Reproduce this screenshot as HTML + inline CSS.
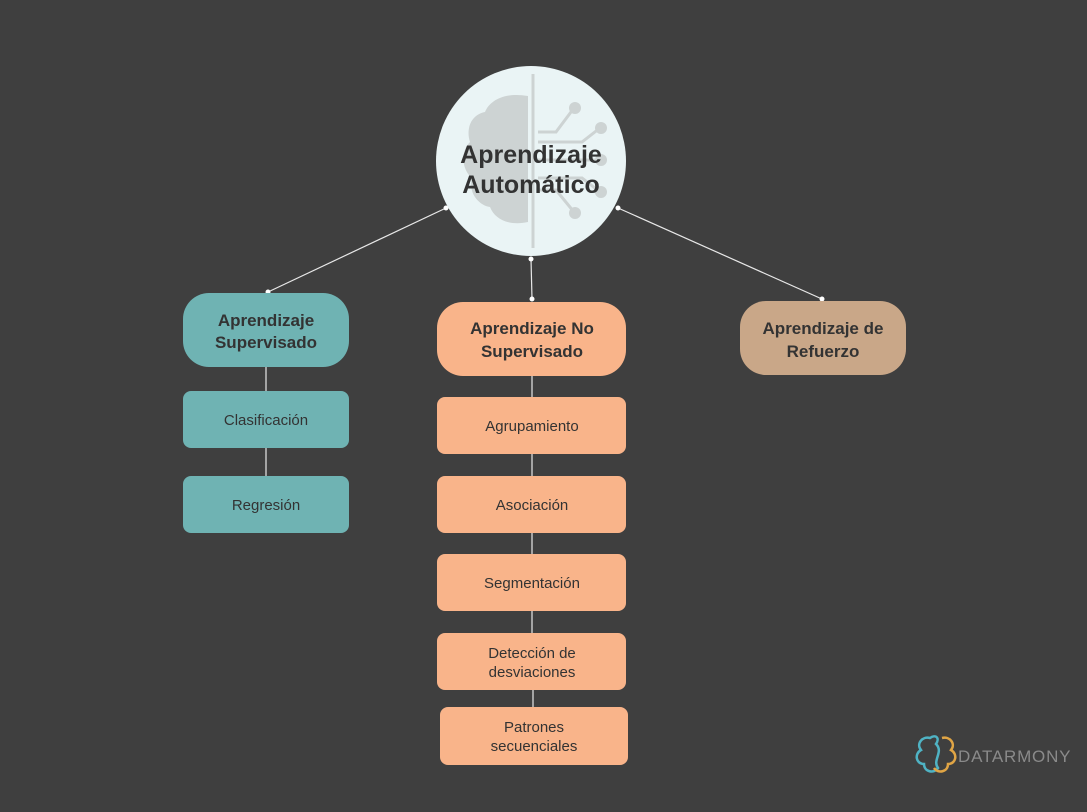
<!DOCTYPE html>
<html><head><style>
html,body{margin:0;padding:0;background:#3f3f3f;}
svg{display:block}
text{font-family:"Liberation Sans",sans-serif;}
</style></head><body>
<svg width="1087" height="812" viewBox="0 0 1087 812" xmlns="http://www.w3.org/2000/svg">
<rect width="1087" height="812" fill="#3f3f3f"/>
<g stroke="#e8e8e8" stroke-width="1.2">
<line x1="446" y1="208" x2="268" y2="292"/>
<line x1="531" y1="259" x2="532" y2="299"/>
<line x1="618" y1="208" x2="822" y2="299"/>
<line x1="266" y1="367" x2="266" y2="391"/>
<line x1="266" y1="448" x2="266" y2="476"/>
<line x1="532" y1="376" x2="532" y2="397"/>
<line x1="532" y1="454" x2="532" y2="476"/>
<line x1="532" y1="533" x2="532" y2="554"/>
<line x1="532" y1="611" x2="532" y2="633"/>
<line x1="533" y1="690" x2="533" y2="707"/>
</g>
<g fill="#fff">
<circle cx="446" cy="208" r="2.5"/><circle cx="268" cy="292" r="2.5"/>
<circle cx="531" cy="259" r="2.5"/><circle cx="532" cy="299" r="2.5"/>
<circle cx="618" cy="208" r="2.5"/><circle cx="822" cy="299" r="2.5"/>
</g>
<circle cx="531" cy="161" r="95" fill="#eaf4f5"/>
<g fill="#cdd3d3" stroke="none">
<path d="M528 96 C505 92 490 100 485 112 C470 115 466 130 470 142 C460 152 462 170 472 178 C468 192 478 205 490 207 C495 220 510 226 528 222 Z"/>
</g>
<line x1="533" y1="74" x2="533" y2="248" stroke="#cdd3d3" stroke-width="3"/>
<g stroke="#cdd3d3" stroke-width="3" fill="none">
<polyline points="538,132 556,132 574,108"/>
<polyline points="538,142 582,142 600,128"/>
<polyline points="538,160 600,160"/>
<polyline points="538,178 582,178 600,192"/>
<polyline points="538,190 556,190 574,212"/>
</g>
<g fill="#cdd3d3">
<circle cx="575" cy="108" r="6"/><circle cx="601" cy="128" r="6"/><circle cx="601" cy="160" r="6"/><circle cx="601" cy="192" r="6"/><circle cx="575" cy="213" r="6"/>
</g>
<text x="531" y="163" text-anchor="middle" font-size="25" font-weight="bold" fill="#333">Aprendizaje</text>
<text x="531" y="193" text-anchor="middle" font-size="25" font-weight="bold" fill="#333">Automático</text>
<rect x="183" y="293" width="166" height="74" rx="26" fill="#6fb3b3"/>
<text x="266" y="326" text-anchor="middle" font-size="17" font-weight="bold" fill="#333">Aprendizaje</text>
<text x="266" y="348" text-anchor="middle" font-size="17" font-weight="bold" fill="#333">Supervisado</text>
<rect x="183" y="391" width="166" height="57" rx="8" fill="#6fb3b3"/>
<text x="266" y="425" text-anchor="middle" font-size="15" fill="#333">Clasificación</text>
<rect x="183" y="476" width="166" height="57" rx="8" fill="#6fb3b3"/>
<text x="266" y="510" text-anchor="middle" font-size="15" fill="#333">Regresión</text>
<rect x="437" y="302" width="189" height="74" rx="26" fill="#f9b48a"/>
<text x="532" y="334" text-anchor="middle" font-size="17" font-weight="bold" fill="#333">Aprendizaje No</text>
<text x="532" y="357" text-anchor="middle" font-size="17" font-weight="bold" fill="#333">Supervisado</text>
<g fill="#f9b48a">
<rect x="437" y="397" width="189" height="57" rx="8"/>
<rect x="437" y="476" width="189" height="57" rx="8"/>
<rect x="437" y="554" width="189" height="57" rx="8"/>
<rect x="437" y="633" width="189" height="57" rx="8"/>
<rect x="440" y="707" width="188" height="58" rx="8"/>
</g>
<g font-size="15" fill="#333" text-anchor="middle">
<text x="532" y="431">Agrupamiento</text>
<text x="532" y="510">Asociación</text>
<text x="532" y="588">Segmentación</text>
<text x="532" y="658">Detección de</text>
<text x="532" y="677">desviaciones</text>
<text x="534" y="732">Patrones</text>
<text x="534" y="751">secuenciales</text>
</g>
<rect x="740" y="301" width="166" height="74" rx="26" fill="#c9a788"/>
<text x="823" y="334" text-anchor="middle" font-size="17" font-weight="bold" fill="#333">Aprendizaje de</text>
<text x="823" y="357" text-anchor="middle" font-size="17" font-weight="bold" fill="#333">Refuerzo</text>
<path d="M930 738 C922 736 916 744 921 750 C914 754 916 764 924 764 C924 772 934 774 938 768 C932 760 944 752 936 744 C940 738 936 734 930 738 Z" fill="none" stroke="#4fb3c4" stroke-width="2.5"/>
<path d="M942 738 C950 736 956 744 951 750 C958 754 956 764 948 764 C948 772 938 774 934 768" fill="none" stroke="#e0a545" stroke-width="2.5"/>
<text x="958" y="762" font-size="17" fill="#8a8a8a" letter-spacing="0.8">DATARMONY</text>
</svg>
</body></html>
